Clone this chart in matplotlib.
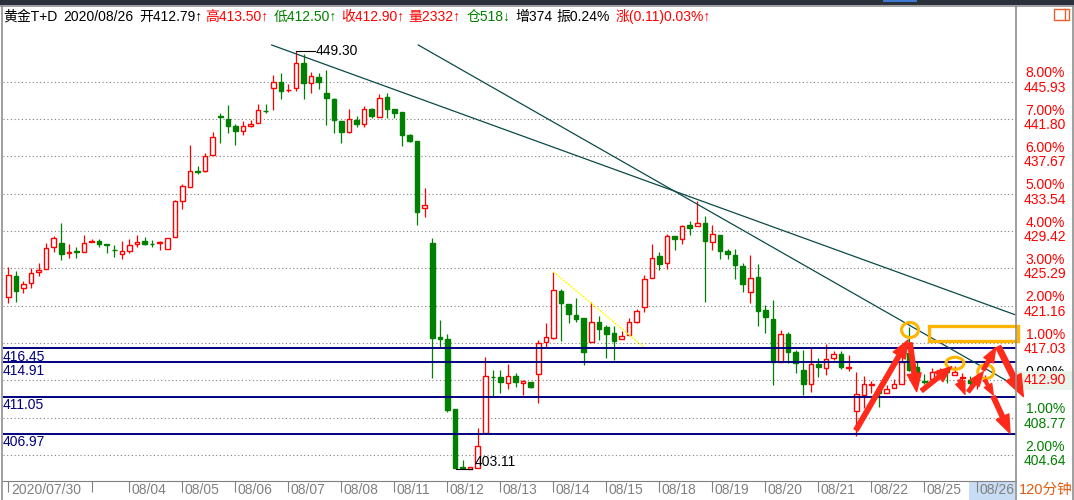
import matplotlib.pyplot as plt
import numpy as np
from matplotlib.patches import Rectangle, Ellipse, FancyArrowPatch, ArrowStyle
from matplotlib.transforms import Affine2D

plt.rcParams['font.family'] = ['Liberation Sans', 'Noto Sans CJK SC', 'DejaVu Sans']
plt.rcParams['font.size'] = 10

W, H = 1074, 500
RED = '#FF0000'
GREEN = '#008000'
NAVY = '#000080'
GRAY = '#808080'

# 120-minute bars, 2020/07/30 - 2020/08/26
opens = [422.09, 424.44, 423.08, 423.64, 424.85, 425.19, 427.62, 428.13, 427.04, 427.21,
         427.07, 428.17, 428.32, 427.98, 427.35, 426.84, 427.24, 427.95, 428.32, 428.02,
         428.06, 427.40, 428.79, 432.77, 434.25, 436.06, 436.09, 437.86, 442.14, 441.81,
         441.00, 440.51, 441.03, 441.33, 442.73, 445.20, 445.87, 445.00, 445.20, 447.97,
         445.76, 446.49, 444.72, 443.99, 441.59, 440.40, 441.70, 441.22, 442.88, 442.06,
         444.21, 442.88, 442.62, 440.04, 439.38, 431.93, 428.06, 417.73, 417.44, 409.70,
         403.26, 403.11, 403.18, 407.05, 413.31, 413.31, 412.58, 413.38, 412.64, 412.75,
         413.57, 417.11, 417.62, 422.79, 421.35, 420.13, 419.80, 417.18, 419.32, 418.77,
         418.10, 417.44, 417.86, 419.32, 421.05, 424.17, 426.66, 425.92, 428.87, 428.57,
         430.05, 429.99, 430.31, 428.24, 428.98, 427.21, 426.77, 425.55, 422.71, 424.33,
         420.68, 419.66, 414.93, 418.00, 416.04, 414.05, 412.47, 414.68, 414.24, 415.34,
         415.78, 414.27, 409.48, 411.28, 412.43, 412.02, 411.54, 412.00, 412.47, 415.90,
         414.38, 412.78, 413.02, 413.88, 414.01, 413.49, 413.20, 412.94, 412.70, 412.79]
highs = [425.47, 425.00, 423.89, 425.36, 425.85, 428.06, 428.87, 430.34, 427.95, 427.68,
         428.98, 428.50, 428.50, 427.98, 427.87, 428.32, 428.50, 428.95, 428.79, 428.43,
         428.32, 428.61, 432.85, 434.62, 438.93, 436.61, 438.02, 440.40, 442.44, 443.36,
         441.22, 441.59, 441.70, 443.47, 443.47, 446.67, 446.86, 445.68, 449.30, 448.96,
         447.04, 446.86, 447.23, 444.10, 441.59, 442.91, 442.14, 443.25, 443.06, 444.54,
         444.65, 442.88, 442.62, 440.12, 439.38, 434.21, 428.61, 419.58, 418.03, 409.70,
         404.09, 403.28, 407.67, 415.52, 414.05, 414.05, 414.71, 413.68, 412.94, 412.75,
         417.37, 419.28, 424.92, 422.97, 421.35, 421.98, 419.80, 421.54, 420.02, 419.02,
         418.91, 418.33, 419.80, 420.79, 424.55, 427.98, 427.13, 429.09, 428.87, 430.08,
         430.56, 432.79, 431.08, 430.08, 428.98, 427.40, 427.40, 425.85, 426.77, 425.77,
         421.20, 421.79, 418.47, 418.25, 416.26, 416.26, 416.43, 415.34, 416.92, 416.15,
         416.15, 415.71, 413.83, 413.38, 412.86, 412.02, 412.39, 413.05, 415.90, 418.84,
         414.93, 413.61, 414.24, 414.27, 414.01, 414.49, 413.70, 413.38, 413.38, 413.50]
lows = [421.42, 421.54, 422.53, 423.15, 424.48, 425.19, 427.13, 426.21, 426.47, 426.47,
        427.07, 428.17, 427.68, 427.02, 426.58, 426.32, 426.96, 427.65, 427.87, 427.68,
        427.32, 427.40, 428.79, 431.85, 434.25, 435.69, 435.98, 437.86, 439.12, 440.29,
        438.93, 440.04, 440.89, 441.33, 442.51, 442.80, 444.02, 444.83, 444.94, 443.99,
        444.65, 445.09, 441.15, 440.23, 439.12, 440.29, 440.96, 440.96, 441.89, 442.00,
        441.89, 441.89, 438.86, 439.30, 430.08, 431.00, 413.20, 416.62, 409.44, 403.15,
        403.11, 403.11, 403.18, 407.05, 411.10, 411.47, 411.98, 412.20, 411.28, 412.09,
        410.43, 416.62, 417.48, 417.26, 419.21, 419.32, 414.63, 417.18, 417.37, 415.41,
        415.15, 417.44, 417.86, 419.21, 420.46, 424.17, 425.11, 425.25, 427.32, 427.95,
        428.98, 429.99, 421.60, 427.32, 426.36, 426.36, 424.15, 422.71, 421.49, 418.91,
        418.17, 412.39, 414.93, 414.79, 413.75, 411.28, 411.65, 413.27, 413.44, 415.15,
        414.13, 413.94, 406.69, 409.85, 411.47, 409.90, 411.54, 412.00, 412.47, 413.94,
        412.83, 412.50, 413.02, 413.66, 412.61, 413.49, 412.60, 412.20, 411.90, 412.50]
closes = [424.55, 422.82, 423.56, 424.74, 425.11, 427.51, 428.61, 426.84, 427.15, 427.14,
          428.06, 428.32, 428.02, 427.92, 427.29, 427.21, 427.87, 428.20, 428.02, 427.95,
          428.24, 428.61, 432.74, 434.40, 436.02, 435.99, 437.72, 439.78, 442.00, 441.07,
          440.51, 441.00, 441.22, 442.80, 442.66, 445.87, 444.94, 445.05, 447.97, 445.76,
          446.56, 445.93, 444.10, 441.70, 440.40, 441.78, 441.26, 442.88, 442.17, 444.16,
          442.95, 442.51, 440.04, 439.41, 431.56, 432.30, 417.62, 417.44, 409.62, 403.18,
          403.15, 403.28, 405.64, 413.38, 413.24, 412.75, 413.38, 412.69, 412.83, 412.20,
          417.00, 417.66, 422.90, 421.42, 420.21, 419.72, 416.07, 419.32, 418.58, 418.06,
          417.29, 417.78, 419.30, 420.57, 424.08, 426.40, 425.77, 428.87, 428.57, 429.94,
          429.79, 430.31, 428.32, 429.09, 427.21, 426.91, 425.66, 423.59, 424.19, 420.61,
          419.94, 414.93, 418.00, 416.07, 414.79, 412.47, 414.68, 414.41, 415.26, 415.78,
          414.41, 414.35, 411.36, 412.47, 412.50, 411.54, 411.91, 412.47, 414.97, 414.05,
          413.27, 412.72, 413.83, 414.00, 413.77, 413.77, 413.30, 412.58, 412.85, 412.90]

# date ticks (bar index of the first bar of each trading day)
tick_bars = [0, 11, 16, 23, 30, 37, 44, 51, 58, 65, 72, 79, 86, 93, 100, 107, 114, 121, 128]
tick_labels = ['2020/07/30', '', '08/04', '08/05', '08/06', '08/07', '08/08', '08/11', '08/12',
               '08/13', '08/14', '08/15', '08/18', '08/19', '08/20', '08/21', '08/22', '08/25', '08/26']

# right-hand scale: percent from 412.90
ref_price = 412.90
pct_labels = ['8.00%', '7.00%', '6.00%', '5.00%', '4.00%', '3.00%', '2.00%', '1.00%', '0.00%', '1.00%', '2.00%']
grid_prices = [445.93, 441.80, 437.67, 433.54, 429.42, 425.29, 421.16, 417.03, 412.90, 408.77, 404.64]

# horizontal support / resistance lines
level_prices = [416.45, 414.91, 411.05, 406.97]

# drawn trend lines: (bar, price) end points
trend_lines = [((34.79, 449.99), (132.97, 420.16)),
               ((54.15, 449.99), (132.97, 412.33))]
yellow_line = ((71.98, 424.92), (83.87, 416.62))

# hand-drawn annotations
circles = [(119.10, 418.47, 2.25, 1.66), (125.04, 414.79, 2.38, 1.33), (129.10, 413.86, 2.11, 1.55)]
box = (121.61, 417.20, 133.37, 418.91)
arrow_tails = [(111.97, 407.41), (119.10, 417.03), (120.64, 411.76), (125.61, 412.94), (126.80, 411.65),
               (128.78, 414.05), (130.76, 416.62), (129.0, 412.94), (130.10, 411.10)]
arrow_heads = [(118.87, 417.37), (119.98, 411.65), (124.61, 414.41), (126.36, 411.36), (128.78, 413.86),
               (130.42, 416.51), (134.07, 411.10), (130.1, 411.28), (132.31, 407.05)]
arrow_sizes = [1.0, 1.0, 0.9, 0.7, 0.8, 0.8, 1.2, 0.6, 1.0]

fig = plt.figure(figsize=(W / 100, H / 100), dpi=100)
fig.patch.set_facecolor('white')
pix = Affine2D().scale(1 / W, -1 / H).translate(0, 1) + fig.transFigure

ax = fig.add_axes([3 / W, 1 - 480.7 / H, 1013 / W, 450.7 / H])
ax.set_xlim(-0.70, 133.10)
ax.set_ylim(401.80, 451.65)
for s in ['top', 'left', 'right']:
    ax.spines[s].set_visible(False)
ax.spines['bottom'].set_color(GRAY)
ax.tick_params(axis='y', left=False, labelleft=False)
ax.set_xticks(tick_bars)
ax.tick_params(axis='x', direction='out', length=8, width=0.8, color=GRAY, labelbottom=False)

# grid
ax.hlines(grid_prices, -0.7, 133.1, colors=GRAY, lw=0.8, linestyles=(0, (1, 2.3)), zorder=1)

# candles
o = np.array(opens)
h = np.array(highs)
l = np.array(lows)
c = np.array(closes)
x = np.arange(len(o))
up = c >= o
ax.vlines(x, l, h, colors=np.where(up, RED, GREEN), lw=0.9, zorder=2)
lo = np.minimum(o, c)
hgt = np.abs(c - o)
ax.bar(x[up], hgt[up], bottom=lo[up], width=0.6, facecolor='white', edgecolor=RED, lw=1.0, zorder=3)
ax.bar(x[~up], hgt[~up], bottom=lo[~up], width=0.6, facecolor=GREEN, edgecolor=GREEN, lw=1.0, zorder=3)

# high / low markers
hi_i = int(np.argmax(h))
lo_i = int(np.argmin(l))
ax.plot([hi_i, hi_i + 2.5], [h[hi_i], h[hi_i]], color='black', lw=0.8, zorder=4)
ax.text(hi_i + 2.6, h[hi_i], f'{h[hi_i]:.2f}', va='center', ha='left', fontsize=10, zorder=4)
ax.plot([lo_i - 0.9, lo_i + 1.3], [l[lo_i], l[lo_i]], color='black', lw=0.8, zorder=4)
ax.text(lo_i + 1.6, l[lo_i], f'{l[lo_i]:.2f}', va='bottom', ha='left', fontsize=10, zorder=4)

# support / resistance levels
ax.hlines(level_prices, -0.7, 133.1, colors=NAVY, lw=1.4, zorder=4)
for lv in level_prices:
    ax.annotate(f'{lv:.2f}', xy=(0, lv), xycoords=('axes fraction', 'data'), xytext=(0, -1),
                textcoords='offset points', va='top', ha='left', color=NAVY, fontsize=10)

# trend lines
for (a, b) in trend_lines:
    ax.plot([a[0], b[0]], [a[1], b[1]], color='#0B4A47', lw=0.9, zorder=5, clip_on=False)
ax.plot([yellow_line[0][0], yellow_line[1][0]], [yellow_line[0][1], yellow_line[1][1]],
        color='#FFFF00', lw=1.0, linestyle=(0, (1.5, 0.8)), zorder=5)

# right scale labels
for pct, gp in zip(pct_labels, grid_prices):
    col = RED if gp > ref_price else (GREEN if gp < ref_price else 'black')
    ax.annotate(pct, xy=(1, gp), xycoords=('axes fraction', 'data'), xytext=(21, 6),
                textcoords='offset points', ha='center', va='center', color=col, fontsize=10,
                annotation_clip=False)
    ax.annotate(f'{gp:.2f}', xy=(1, gp), xycoords=('axes fraction', 'data'), xytext=(21, -4.3),
                textcoords='offset points', ha='center', va='center', color=col, fontsize=10,
                annotation_clip=False)

# current price tag
ax.add_patch(Rectangle((1017, 371), 56, 19, transform=pix, facecolor='#EBF4EA', edgecolor='none',
                       clip_on=False, zorder=7))
ax.annotate(f'{c[-1]:.2f}', xy=(1, c[-1]), xycoords=('axes fraction', 'data'), xytext=(21, 0),
            textcoords='offset points', ha='center', va='center', color=RED, fontsize=10,
            annotation_clip=False, zorder=8)

# annotations
for (cx, cy, w, hh) in circles:
    ax.add_patch(Ellipse((cx, cy), w, hh, fill=False, edgecolor='#FFB400', lw=2.2, zorder=6, clip_on=False))
ax.add_patch(Rectangle((box[0], box[1]), box[2] - box[0], box[3] - box[1], fill=False,
                       edgecolor='#FFB400', lw=2.4, zorder=6, clip_on=False))
for t, hd, sc in zip(arrow_tails, arrow_heads, arrow_sizes):
    st = ArrowStyle('simple', head_length=13 * sc, head_width=10 * sc, tail_width=3.2 * sc)
    ax.add_patch(FancyArrowPatch(t, hd, arrowstyle=st, mutation_scale=1, color='#FF2A1A',
                                 shrinkA=0, shrinkB=0, zorder=9, clip_on=False))

# date labels
ax.add_patch(Rectangle((969, 481.5), 46, 18.5, transform=pix, facecolor='#C8DCF4', edgecolor='none',
                       clip_on=False, zorder=0))
for tb, tl in zip(tick_bars, tick_labels):
    if tl:
        ax.annotate(tl, xy=(tb, 0), xycoords=('data', 'axes fraction'), xytext=(1.8, -6.7),
                    textcoords='offset points', ha='left', va='center', color=GRAY, fontsize=10,
                    annotation_clip=False)
fig.text(1046, 490, '120分钟', transform=pix, ha='center', va='center', color='#E55B10', fontsize=10.5)

# frame and header
fig.add_artist(Rectangle((0, 0), W, 5, transform=pix, facecolor='#2C303A', edgecolor='none'))
fig.add_artist(Rectangle((883, 0), 34, 2, transform=pix, facecolor='#3D7BD0', edgecolor='none'))
fig.add_artist(plt.Line2D([0, W], [5.5, 5.5], transform=pix, color='#8F8F8F', lw=1.2))
for xv in [1.7, 1015.7, 1072.8]:
    fig.add_artist(plt.Line2D([xv, xv], [5.5, 500], transform=pix, color='#8F8F8F', lw=1.2))
fig.add_artist(Rectangle((1054, 8.5), 15, 11, transform=pix, fill=False, edgecolor='#E8602C', lw=1))
fig.add_artist(plt.Line2D([1065, 1065], [8.5, 19.5], transform=pix, color='#E8602C', lw=1))

header = [('黄金T+D', 3, 'black'), ('2020/08/26', 63, 'black'), ('开412.79↑', 139, 'black'),
          ('高413.50↑', 205, RED), ('低412.50↑', 274, GREEN), ('收412.90↑', 341, RED),
          ('量2332↑', 408, RED), ('仓518↓', 467, GREEN), ('增374', 515, 'black'),
          ('振0.24%', 556, 'black'), ('涨(0.11)0.03%↑', 616, RED)]
for txt, hx, col in header:
    fig.text(hx, 17, txt, transform=pix, ha='left', va='center', color=col, fontsize=10)

fig.savefig('out.png', dpi=100)
